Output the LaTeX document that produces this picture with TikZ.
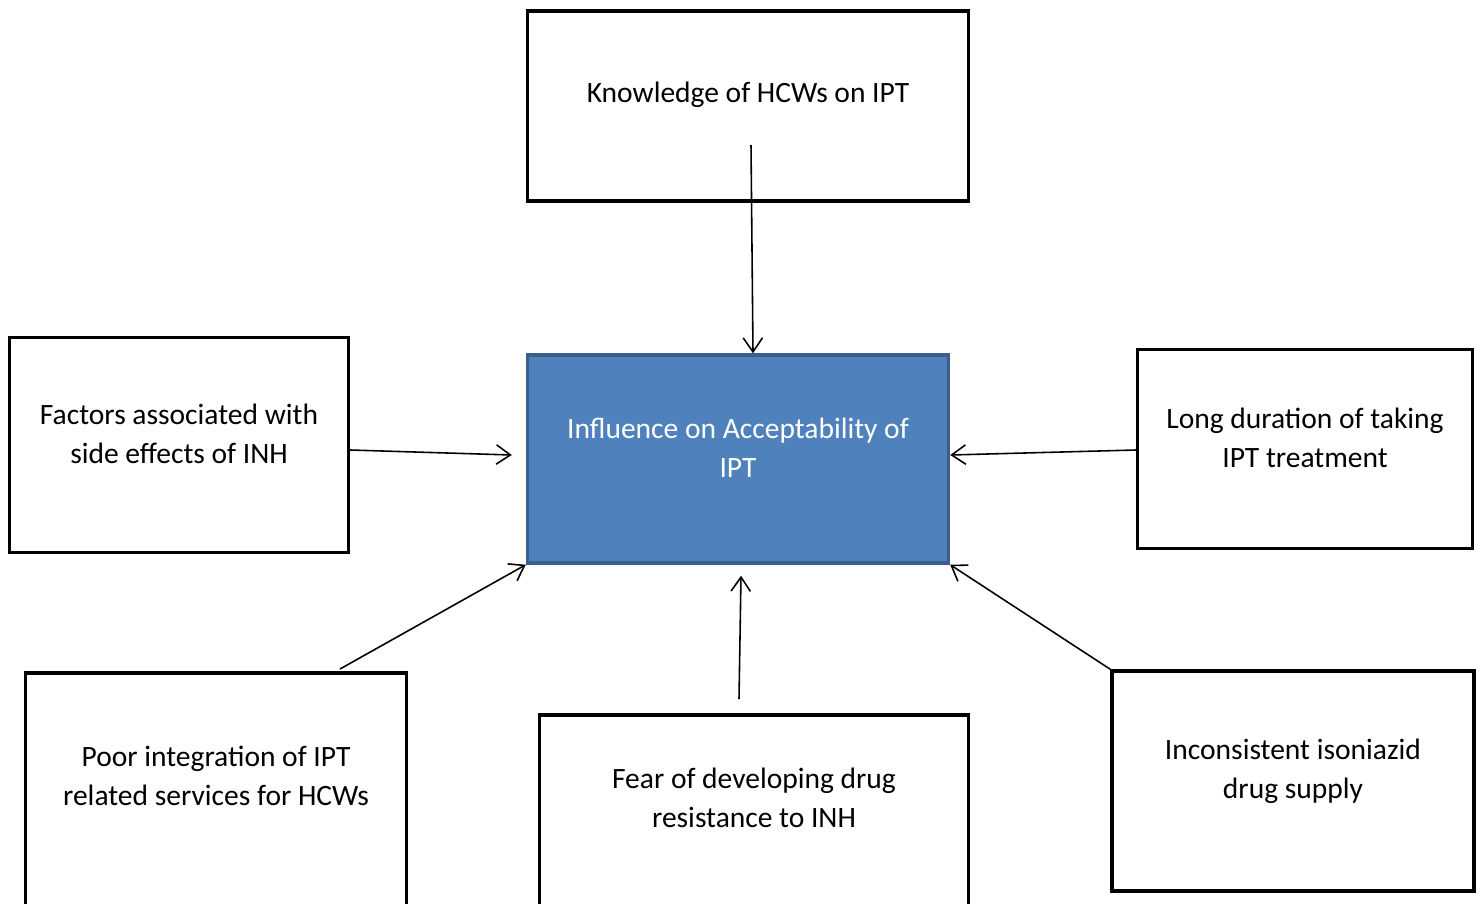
\documentclass[tikz,border=0pt]{standalone}
\usepackage{fontspec}
\setmainfont{Carlito}
\usetikzlibrary{arrows.meta}
\definecolor{ipublue}{HTML}{4F81BD}
\definecolor{ipuedge}{HTML}{3A5F8C}

\begin{document}
\begin{tikzpicture}[x=0.02cm,y=-0.02cm,
  factor/.style={draw,line width=2pt,fill=white},
  outcome/.style={draw=ipuedge,line width=2pt,fill=ipublue},
  factortext/.style={align=center,font=\fontsize{16.8}{22}\selectfont},
  arr/.style={-{Straight Barb[length=8pt,width=11pt]},line width=0.9pt}]
\useasboundingbox (0,0) rectangle (1483,903);
\clip (0,0) rectangle (1483,903);
% frames
\node[factor,minimum width=8.82cm,minimum height=3.8cm] (knowledge) at (748,106) {};
\node[outcome,minimum width=8.42cm,minimum height=4.16cm] (influence) at (738,459) {};
\node[factor,minimum width=6.78cm,minimum height=4.3cm] (sideeffects) at (179,445) {};
\node[factor,minimum width=6.7cm,minimum height=3.98cm] (duration) at (1305,449) {};
\node[factor,minimum width=7.24cm,minimum height=4.4cm] (supply) at (1293,781) {};
\node[factor,anchor=north,minimum width=7.62cm,minimum height=6cm] (integration) at (216,671) {};
\node[factor,anchor=north,minimum width=8.58cm,minimum height=6cm] (resistance) at (754,713) {};
% texts
\node[factortext] (knowledgetext) at (748,95) {Knowledge of HCWs on IPT};
\node[factortext,text=white] (influencetext) at (738,448) {Influence on Acceptability of\\IPT};
\node[factortext] (sideeffectstext) at (179,434) {Factors associated with\\side effects of INH};
\node[factortext] (durationtext) at (1305,438) {Long duration of taking\\IPT treatment};
\node[factortext] (supplytext) at (1293,771) {Inconsistent isoniazid\\drug supply};
\node[factortext] (integrationtext) at (216,776) {Poor integration of IPT\\related services for HCWs};
\node[factortext] (resistancetext) at (754,798) {Fear of developing drug\\resistance to INH};
% arrows
\draw[arr] ([shift={(3,39)}]knowledge.center) -- ([shift={(15,0)}]influence.north);
\draw[arr] ([shift={(0,5)}]sideeffects.east) -- ([shift={(-14,-4)}]influence.west);
\draw[arr] ([shift={(0,1)}]duration.west) -- ([shift={(0,-4)}]influence.east);
\draw[arr] ([shift={(124,-2)}]integration.north) -- (influence.south west);
\draw[arr] ([shift={(-15,-14)}]resistance.north) -- ([shift={(3,11)}]influence.south);
\draw[arr] (supply.north west) -- (influence.south east);
\end{tikzpicture}
\end{document}
